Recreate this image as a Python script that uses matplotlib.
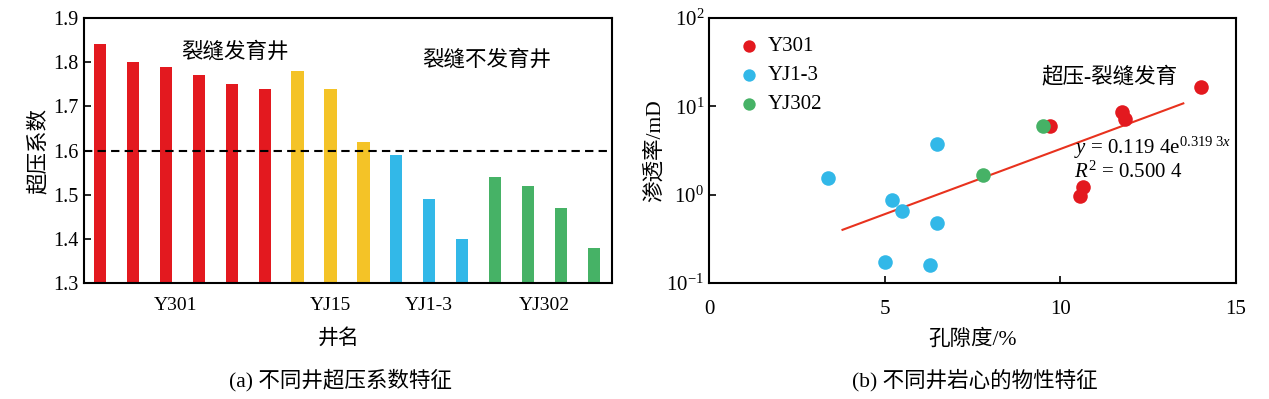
import numpy as np
import matplotlib
matplotlib.use('Agg')
import matplotlib.pyplot as plt

plt.rcParams['font.family'] = ['Liberation Serif', 'Noto Sans CJK SC']
plt.rcParams['mathtext.fontset'] = 'custom'
plt.rcParams['mathtext.rm'] = 'Liberation Serif'
plt.rcParams['mathtext.it'] = 'Liberation Serif:italic'
plt.rcParams['axes.unicode_minus'] = False

# (a) 超压系数
y301_vals = [1.84, 1.80, 1.79, 1.77, 1.75, 1.74]
yj15_vals = [1.78, 1.74, 1.62]
yj13_vals = [1.59, 1.49, 1.40]
yj302_vals = [1.54, 1.52, 1.47, 1.38]
well_names = ['Y301', 'YJ15', 'YJ1-3', 'YJ302']

# (b) 孔隙度 / 渗透率
y301_por = [14.0, 11.75, 11.85, 9.7, 10.65, 10.55]
y301_perm = [16.7, 8.7, 7.1, 6.0, 1.21, 0.96]
yj13_por = [3.4, 6.5, 5.2, 5.5, 6.5, 5.0, 6.3]
yj13_perm = [1.54, 3.7, 0.88, 0.66, 0.48, 0.173, 0.161]
yj302_por = [9.5, 7.8]
yj302_perm = [6.0, 1.68]
trend_x = [3.8, 13.5]
trend_y = [0.40, 10.8]

red = '#e3191f'
yellow = '#f4c327'
blue = '#32b8e8'
green = '#46b266'

fig = plt.figure(figsize=(12.69, 3.99), dpi=100, facecolor='white')

# ---------- (a) ----------
ax1 = fig.add_axes([0.0658, 0.2907, 0.4165, 0.6642])
groups = [y301_vals, yj15_vals, yj13_vals, yj302_vals]
colors = [red, yellow, blue, green]
pos = 0
centers = []
for vals, c in zip(groups, colors):
    xs = np.arange(pos, pos + len(vals))
    ax1.bar(xs, np.array(vals) - 1.3, bottom=1.3, width=0.37, color=c)
    centers.append(xs.mean())
    pos += len(vals)
centers[0] -= 0.2
ax1.axhline(1.6, color='black', linestyle=(0, (4, 2.5)), linewidth=1.5)
ax1.set_xlim(-0.5, 15.55)
ax1.set_ylim(1.3, 1.9)
ax1.set_yticks([1.3, 1.4, 1.5, 1.6, 1.7, 1.8, 1.9])
ax1.set_xticks(centers)
ax1.set_xticklabels(well_names)
ax1.tick_params(axis='x', length=0, labelsize=14, pad=10)
ax1.tick_params(axis='y', direction='in', length=5, labelsize=14.5, width=1.2)
ax1.set_xlabel('井名', fontsize=15, labelpad=8)
ax1.xaxis.set_label_coords(0.483, -0.175)
ax1.set_ylabel('超压系数', fontsize=15.5, labelpad=3)
ax1.text(4.1, 1.823, '裂缝发育井', fontsize=15.5, ha='center', va='center')
ax1.text(11.75, 1.805, '裂缝不发育井', fontsize=15.5, ha='center', va='center')
for s in ax1.spines.values():
    s.set_linewidth(1.5)
fig.text(0.268, 0.047, '(a) 不同井超压系数特征', fontsize=15.5, ha='center', va='center')

# ---------- (b) ----------
ax2 = fig.add_axes([0.5587, 0.2907, 0.4153, 0.6642])
ax2.plot(trend_x, trend_y, color='#e8321e', linewidth=1.5, zorder=2)
ax2.scatter(y301_por, y301_perm, s=110, color=red, label='Y301', zorder=3, linewidths=0)
ax2.scatter(yj13_por, yj13_perm, s=110, color=blue, label='YJ1-3', zorder=3, linewidths=0)
ax2.scatter(yj302_por, yj302_perm, s=110, color=green, label='YJ302', zorder=4, linewidths=0)
ax2.set_yscale('log')
ax2.set_xlim(0, 15)
ax2.set_ylim(0.1, 100)
ax2.set_xticks([0, 5, 10, 15])
ax2.minorticks_off()
ax2.tick_params(axis='x', direction='in', length=5, labelsize=15, pad=12, width=1.2)
ax2.tick_params(axis='y', direction='in', length=5, labelsize=15, width=1.2)
ax2.set_xlabel('孔隙度/%', fontsize=15.5, labelpad=8)
ax2.set_ylabel('渗透率/mD', fontsize=15.5, labelpad=1)
ax2.legend(loc='upper left', frameon=False, fontsize=15, handletextpad=-0.1,
           markerscale=0.85, labelspacing=0.45, borderaxespad=0.5)
ax2.text(11.4, 21.5, '超压-裂缝发育', fontsize=15.5, ha='center', va='center')
ax2.text(10.4, 3.35, r'$y$ = 0.119 4e$^{0.319\ 3x}$', fontsize=15, ha='left', va='center')
ax2.text(10.4, 1.8, r'$R^2$ = 0.500 4', fontsize=15, ha='left', va='center')
for s in ax2.spines.values():
    s.set_linewidth(1.5)
fig.text(0.768, 0.047, '(b) 不同井岩心的物性特征', fontsize=15.5, ha='center', va='center')

fig.savefig('out.png', dpi=100, facecolor='white')
